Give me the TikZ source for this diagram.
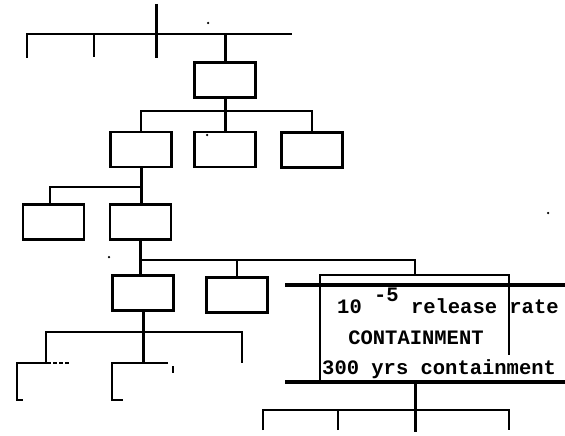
\documentclass[tikz,border=0pt]{standalone}
\usepackage{fontspec}
\setmonofont{Liberation Mono}
\begin{document}
\begin{tikzpicture}[x=1pt,y=-1pt,
  box/.style={draw, line width=2.8pt, minimum width=61pt, minimum height=35pt, inner sep=0pt, outer sep=0pt},
  link/.style={line width=2.2pt},
  conn/.style={line width=3pt},
  heavy/.style={line width=4pt},
  frame/.style={line width=2.4pt},
  txt/.style={font=\ttfamily\bfseries\fontsize{20.5}{22}\selectfont, inner sep=0pt, anchor=base west},
  speck/.style={fill, circle, inner sep=0pt, minimum size=2.5pt}]
\useasboundingbox (0,0) rectangle (565,436);

% boxes
\node[box] (b1) at (225,80) {};
\node[box] (b2a) at (141,149.5) {};
\node[box] (b2b) at (225,149.5) {};
\node[box] (b2c) at (312,150) {};
\node[box] (b3a) at (53.5,222) {};
\node[box] (b3b) at (140.5,222) {};
\node[box] (b4a) at (143,293) {};
\node[box] (b4b) at (237,295) {};

% top level
\coordinate (root) at (156,4);
\coordinate (rootb) at (156,58);
\coordinate (w0) at (26,34);
\coordinate (e0) at (292,34);
\coordinate (l1) at (27,58);
\coordinate (l2) at (94,57);
\draw[link] (w0) -- (e0);
\draw[conn] (root) -- (rootb);
\draw[link] (l1) -- (l1 |- w0);
\draw[link] (l2) -- (l2 |- w0);
\draw[conn] (b1.north) -- (b1.north |- w0);

% second level
\coordinate (bus1) at (0,111);
\draw[conn] (b1.south) -- (b2b.north);
\draw[link] (b2a.north) -- (b2a.north |- bus1) -| (b2c.north);

% third level
\coordinate (bus2) at (0,187);
\coordinate (j3a) at (50,203);
\draw[conn] (b2a.south) -- (b2a.south |- b3b.north);
\draw[link] (b3b.north |- bus2) -| (j3a);

% fourth level
\coordinate (bus3) at (0,260);
\coordinate (cin) at (415,275);
\draw[conn] (b3b.south) -- (b3b.south |- b4a.north);
\draw[link] (b3b.south |- bus3) -| (cin);
\draw[link] (b4b.north) -- (b4b.north |- bus3);

% containment box
\coordinate (ctl) at (320,275);
\coordinate (ctr) at (509,275);
\coordinate (cbl) at (320,382);
\coordinate (cbr) at (509,355);
\coordinate (h1w) at (285,285);
\coordinate (h1e) at (565,285);
\coordinate (h2w) at (285,382);
\coordinate (h2e) at (565,382);
\draw[frame] (cbl) -- (ctl) -- (ctr) -- (cbr);
\draw[heavy] (h1w) -- (h1e);
\draw[heavy] (h2w) -- (h2e);
\node[txt] (t1) at (337,313) {10 \raisebox{0.55em}{-5} release rate};
\node[txt, anchor=base] (t2) at (416,344.5) {CONTAINMENT};
\node[txt] (t3) at (322,374) {300 yrs containment};

% fifth level (partial boxes)
\coordinate (bus4) at (0,332);
\coordinate (pl) at (46,363);
\coordinate (pm) at (143,363);
\coordinate (pr) at (242,363);
\draw[conn] (b4a.south) -- (pm);
\draw[link] (pl) -- (pl |- bus4) -| (pr);
\coordinate (pa1) at (47,363);
\coordinate (pa2) at (17,363);
\coordinate (pa3) at (17,400);
\coordinate (pa4) at (23,400);
\coordinate (pa5) at (69,363);
\draw[link] (pa1) -- (pa2) -- (pa3) -- (pa4);
\draw[line width=1.5pt, dash pattern=on 4pt off 2pt] (pa1) -- (pa5);
\coordinate (pb1) at (168,363);
\coordinate (pb2) at (112,363);
\coordinate (pb3) at (112,400);
\coordinate (pb4) at (123,400);
\coordinate (pc1) at (173,366);
\coordinate (pc2) at (173,373);
\draw[link] (pb1) -- (pb2) -- (pb3) -- (pb4);
\draw[link] (pc1) -- (pc2);

% bottom right
\coordinate (bus5) at (0,410);
\coordinate (q0) at (415,432);
\coordinate (q1) at (263,430);
\coordinate (q2) at (338,430);
\coordinate (q4) at (509,430);
\draw[conn] (h2w -| q0) -- (q0);
\draw[link] (q1) -- (q1 |- bus5) -| (q4);
\draw[link] (q2) -- (q2 |- bus5);

% specks
\node[speck] (s1) at (208,23) {};
\node[speck] (s2) at (207,135) {};
\node[speck] (s3) at (109,257) {};
\node[speck] (s4) at (548,213) {};
\end{tikzpicture}
\end{document}
